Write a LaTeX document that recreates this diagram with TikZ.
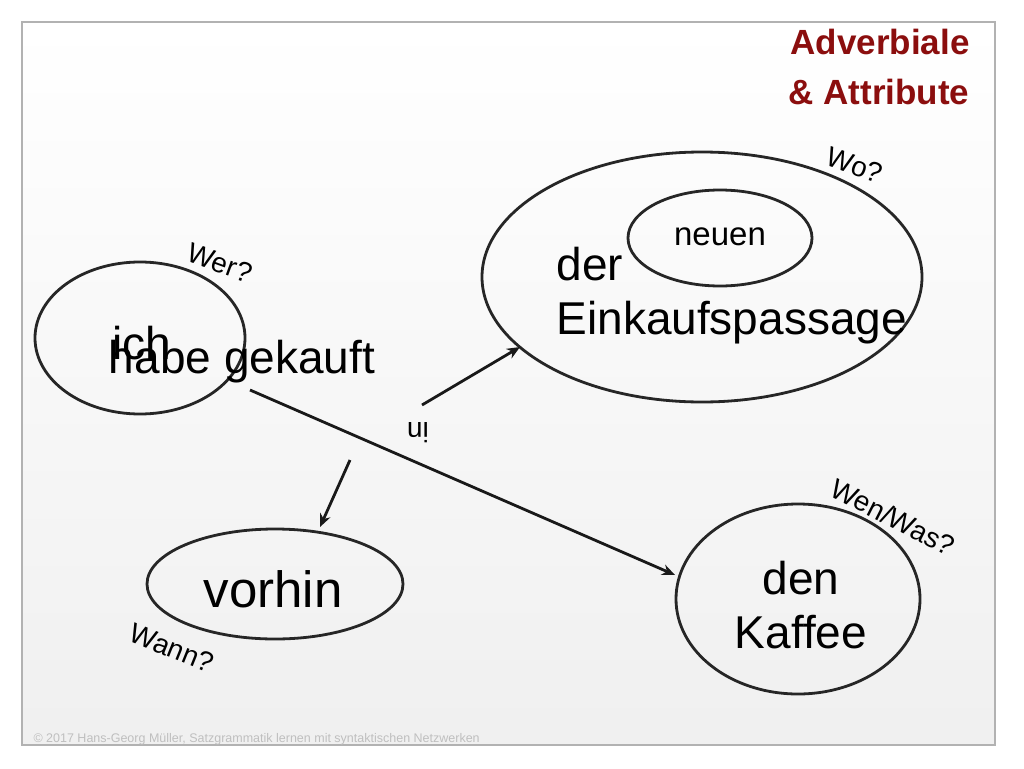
\documentclass[tikz,border=0pt]{standalone}
\usepackage{fontspec}
\setmainfont{Liberation Sans}
\usetikzlibrary{arrows.meta}
\definecolor{dred}{HTML}{8B0E0E}
\begin{document}
\begin{tikzpicture}[x=1pt,y=-1pt,
  ell/.style={draw=black!85,line width=2.8pt},
  arr/.style={draw=black!90,line width=2.8pt,-{Stealth[length=13pt,width=11pt]}},
  q/.style={font=\fontsize{28}{32}\selectfont},
  big/.style={font=\fontsize{46}{54}\selectfont}]
\useasboundingbox (0,0) rectangle (1024,768);
\fill[white] (0,0) rectangle (1024,768);
\shade[top color=white,bottom color=black!6,draw=black!30,line width=1.5pt] (22,22) rectangle (995,745);
\draw[ell] (140,338) ellipse [x radius=105,y radius=76];
\draw[ell] (702,277) ellipse [x radius=220,y radius=125];
\draw[ell] (720,238) ellipse [x radius=92,y radius=48];
\draw[ell] (275,584) ellipse [x radius=128,y radius=55];
\draw[ell] (798,599) ellipse [x radius=122,y radius=95];
\node[big] (ich) at (142,343) {ich};
\node[big] (habe) at (242,362) {habe gekauft};
\node[big,align=left,anchor=west] (ek) at (553,296) {der\\Einkaufspassage};
\node[font=\fontsize{33}{38}\selectfont] (neu) at (720,237) {neuen};
\node[font=\fontsize{51}{56}\selectfont] (vor) at (273,589) {vorhin};
\node[big,align=center] (kaf) at (801,605) {den\\Kaffee};
\coordinate (a1) at (422,405); \coordinate (a2) at (520,347);
\coordinate (b1) at (350,460); \coordinate (b2) at (320,527);
\coordinate (c1) at (250,390); \coordinate (c2) at (675,575);
\draw[arr] (a1) -- (a2);
\draw[arr] (b1) -- (b2);
\draw[arr] (c1) -- (c2);
\node[q,rotate=-20] (wer) at (220,263) {Wer?};
\node[q,rotate=-20] (wo) at (855,165) {Wo?};
\node[q,rotate=-27] (wen) at (893,517) {Wen/Was?};
\node[q,rotate=-22] (wann) at (172,648) {Wann?};
\node[q,rotate=180] (in) at (418,433) {in};
\node[font=\fontsize{35}{50}\selectfont\bfseries,text=dred,align=right,anchor=north east] (t) at (973,26) {Adverbiale\\\& Attribute};
\node[font=\fontsize{12.5}{14}\selectfont,text=black!25,anchor=west] (c) at (30,739) {© 2017 Hans-Georg Müller, Satzgrammatik lernen mit syntaktischen Netzwerken};
\end{tikzpicture}
\end{document}
